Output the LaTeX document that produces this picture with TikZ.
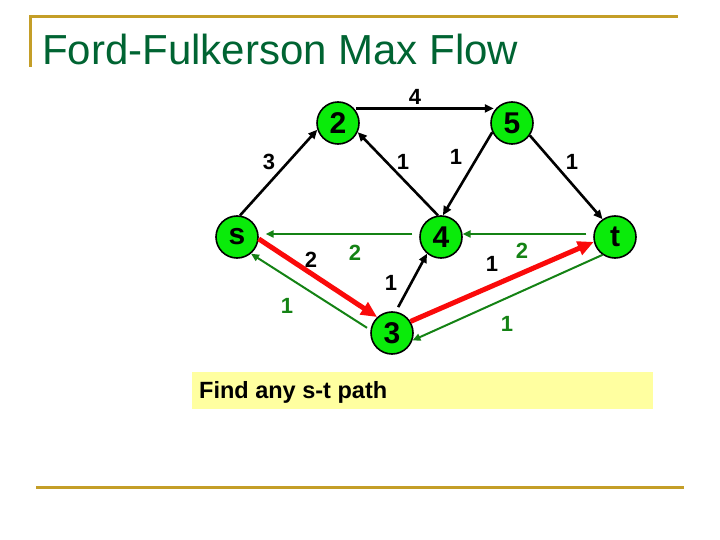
\documentclass[tikz,border=0pt]{standalone}
\usepackage{fontspec}
\setmainfont{Liberation Sans}
\usetikzlibrary{arrows.meta}
\definecolor{gold}{RGB}{196,158,40}
\definecolor{titlegreen}{RGB}{0,100,50}
\definecolor{nodegreen}{RGB}{10,235,10}
\definecolor{flowgreen}{RGB}{20,130,20}
\definecolor{pathred}{RGB}{250,10,10}
\definecolor{noteyellow}{RGB}{255,255,160}
\tikzset{
  vtx/.style={circle,draw=black,line width=1.6pt,fill=nodegreen,minimum size=42pt,inner sep=0pt,font=\fontsize{30}{30}\selectfont\bfseries},
  capedge/.style={-{Triangle[length=9pt,width=8pt]},line width=2.6pt,black},
  resedge/.style={-{Triangle[length=8pt,width=7pt]},line width=2pt,flowgreen},
  augedge/.style={-{Triangle[length=16pt,width=14pt]},line width=5pt,pathred},
  lbl/.style={font=\fontsize{22}{22}\selectfont\bfseries,inner sep=0pt},
  glbl/.style={lbl,text=flowgreen},
  goldrule/.style={gold,line width=3pt}
}
\begin{document}
\begin{tikzpicture}[x=1pt,y=-1pt]
\useasboundingbox (0,0) rectangle (720,540);
% frame rules
\draw[goldrule] (29,17) -- (678,17);
\draw[goldrule] (30.5,17) -- (30.5,67);
\draw[goldrule] (36,487) -- (684,487);
\node[anchor=base west,inner sep=0pt,text=titlegreen,font=\fontsize{42}{42}\selectfont] (title) at (42,65) {Ford-Fulkerson Max Flow};
% note
\node[fill=noteyellow,minimum width=461pt,minimum height=37pt,inner sep=0pt] (note) at (422.5,390.5) {};
\node[anchor=base west,inner sep=0pt,font=\fontsize{23.5}{23.5}\selectfont\bfseries] (notetext) at (199,398) {Find any s-t path};
% vertices
\node[vtx] (s) at (237,237) {s};
\node[vtx] (n2) at (338,123) {2};
\node[vtx] (n5) at (512,123) {5};
\node[vtx] (n4) at (441,237) {4};
\node[vtx] (t) at (615,237) {t};
\node[vtx] (n3) at (392,333) {3};
% capacity edges
\draw[capedge] (s.82) -- (n2.198);
\draw[capedge,shorten <=2pt,shorten >=2pt] (n2.42) -- (n5.138);
\draw[capedge] (n4.98) -- (n2.335);
\draw[capedge] (n5.205) -- (n4.85);
\draw[capedge] (n5.325) -- (t.125);
\draw[capedge,shorten <=5pt] (n3.80) -- (n4.230);
% residual edges
\draw[resedge,shorten <=7pt,shorten >=7pt] (n4.172) -- (s.8);
\draw[resedge,shorten <=7pt] (t.172) -- (n4.8);
\draw[resedge,shorten <=4pt] (n3.172) -- (s.310);
\draw[resedge] (t.235) -- (n3.340);
% augmenting path
\draw[augedge] (s.355) -- (n3.133);
\draw[augedge] (n3.32) -- (t.193);
% labels
\node[lbl] (l4) at (415,97) {4};
\node[lbl] (l3) at (269,162) {3};
\node[lbl] (l1a) at (403,162) {1};
\node[lbl] (l1b) at (456,157) {1};
\node[lbl] (l1c) at (572,162) {1};
\node[glbl] (g2a) at (355,253) {2};
\node[lbl] (l2) at (311,260) {2};
\node[glbl] (g1a) at (287,306) {1};
\node[lbl] (l1d) at (391,283) {1};
\node[lbl] (l1e) at (492,264) {1};
\node[glbl] (g2b) at (522,251) {2};
\node[glbl] (g1b) at (507,324) {1};
\end{tikzpicture}
\end{document}
